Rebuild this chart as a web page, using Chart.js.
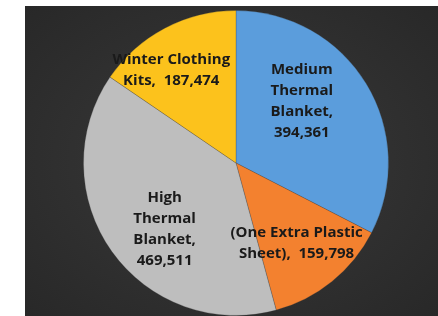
<!DOCTYPE html>
<html>
<head>
<meta charset="utf-8">
<script src="https://cdn.jsdelivr.net/npm/chart.js@4/dist/chart.umd.min.js"></script>
<style>
  html, body { margin: 0; padding: 0; background: #fff; }
  #panel {
    position: absolute; left: 25px; top: 6px; width: 413px; height: 310px;
    background: radial-gradient(ellipse at 50% 50%, #3a3a3a 0%, #303030 55%, #282828 100%);
  }
</style>
</head>
<body>
<div id="panel"><canvas id="pie" width="413" height="310"></canvas></div>
<script>
// Slices, clockwise from 12 o'clock
const categories = ['Medium Thermal Blanket', '(One Extra Plastic Sheet)', 'High Thermal Blanket', 'Winter Clothing Kits'];
const values = [394361, 159798, 469511, 187474];
// how each label is broken into lines; value goes on its own line or on the last one
const nameLines = [['Medium', 'Thermal', 'Blanket'], ['(One Extra Plastic', 'Sheet)'], ['High', 'Thermal', 'Blanket'], ['Winter Clothing', 'Kits']];
const valueOwnLine = [true, false, true, false];
const colors = ['#5b9ddc', '#f3812f', '#bebebe', '#fcc21c'];

// label anchor: angle (deg, clockwise from top) and fraction of radius
const labelAngle = [47, 143, 227, 325];
const labelDist = [0.59, 0.66, 0.64, 0.74];

function labelText(i) {
  const lines = nameLines[i].slice();
  const v = values[i].toLocaleString('en-US');
  const last = lines.length - 1;
  if (valueOwnLine[i]) {
    lines[last] += ',';
    lines.push(v);
  } else {
    lines[last] += ',  ' + v;
  }
  return lines;
}

const sliceLabels = {
  id: 'sliceLabels',
  afterDatasetsDraw(chart) {
    const ctx = chart.ctx;
    const arcs = chart.getDatasetMeta(0).data;
    ctx.save();
    ctx.font = 'bold 15px "Open Sans", sans-serif';
    ctx.fillStyle = '#1a1a1a';
    ctx.textAlign = 'center';
    ctx.textBaseline = 'middle';
    arcs.forEach((arc, i) => {
      const a = (labelAngle[i] - 90) * Math.PI / 180;
      const r = arc.outerRadius * labelDist[i];
      const cx = arc.x + Math.cos(a) * r;
      const cy = arc.y + Math.sin(a) * r;
      const lines = labelText(i);
      const lh = 21;
      lines.forEach((t, k) => {
        ctx.fillText(t, cx, cy + (k - (lines.length - 1) / 2) * lh);
      });
    });
    ctx.restore();
  }
};

new Chart(document.getElementById('pie'), {
  type: 'pie',
  data: {
    labels: categories,
    datasets: [{
      data: values,
      backgroundColor: colors,
      borderColor: 'rgba(60,60,60,0.25)',
      borderWidth: 1
    }]
  },
  options: {
    responsive: false,
    animation: false,
    layout: { padding: { left: 58, right: 49, top: 4, bottom: 0 } },
    plugins: {
      legend: { display: false },
      tooltip: { enabled: false }
    }
  },
  plugins: [sliceLabels]
});
</script>
</body>
</html>
